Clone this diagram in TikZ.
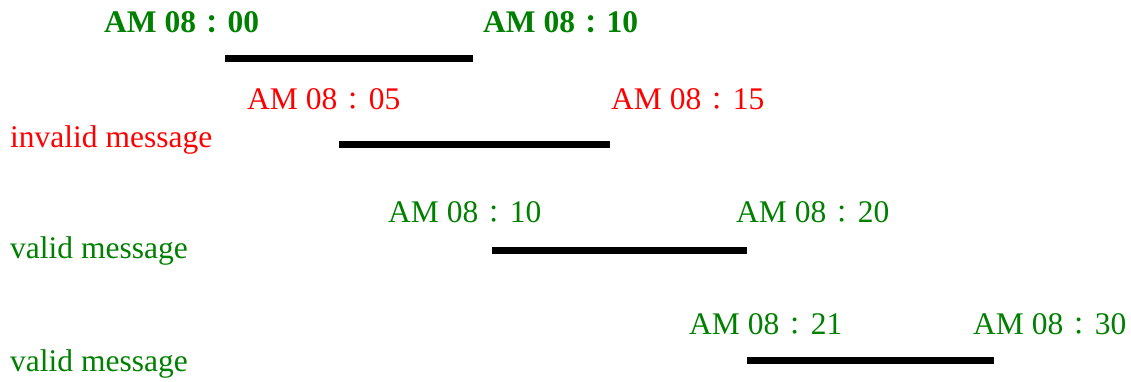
\documentclass[tikz,border=0pt]{standalone}
\usepackage{fontspec}
\usepackage{graphicx}
\setmainfont{Liberation Serif}
\newfontfamily\cjk{Noto Sans CJK TC}
\definecolor{okgreen}{HTML}{008000}
\definecolor{badred}{HTML}{FF0000}
\newcommand{\fc}{\makebox[1em]{\raisebox{-1pt}{\scalebox{0.8}{\cjk ：}}}}
\begin{document}
\begin{tikzpicture}[x=1pt,y=-1pt,
  lbl/.style={anchor=base west,inner sep=0pt,font=\fontsize{31.5}{36}\selectfont},
  good/.style={lbl,text=okgreen},
  bad/.style={lbl,text=badred},
  bar/.style={line width=7pt,line cap=butt,black}]
\useasboundingbox (0,0) rectangle (1131,381);
% row 1
\node[good,font=\fontsize{31.5}{36}\selectfont\bfseries] (t1a) at (104,32) {AM 08\fc 00};
\node[good,font=\fontsize{31.5}{36}\selectfont\bfseries] (t1b) at (483,32) {AM 08\fc 10};
\coordinate (b1s) at (225,58); \coordinate (b1e) at (473,58);
\draw[bar] (b1s) -- (b1e);
% row 2
\node[bad] (t2a) at (247,109) {AM 08\fc 05};
\node[bad] (t2b) at (611,109) {AM 08\fc 15};
\node[bad] (l2) at (10,147) {invalid message};
\coordinate (b2s) at (339,144); \coordinate (b2e) at (610,144);
\draw[bar] (b2s) -- (b2e);
% row 3
\node[good] (t3a) at (388,222) {AM 08\fc 10};
\node[good] (t3b) at (736,222) {AM 08\fc 20};
\node[good] (l3) at (10,258) {valid message};
\coordinate (b3s) at (492,250); \coordinate (b3e) at (747,250);
\draw[bar] (b3s) -- (b3e);
% row 4
\node[good] (t4a) at (689,334) {AM 08\fc 21};
\node[good] (t4b) at (973,334) {AM 08\fc 30};
\node[good] (l4) at (10,371) {valid message};
\coordinate (b4s) at (747,360); \coordinate (b4e) at (994,360);
\draw[bar] (b4s) -- (b4e);
\end{tikzpicture}
\end{document}
